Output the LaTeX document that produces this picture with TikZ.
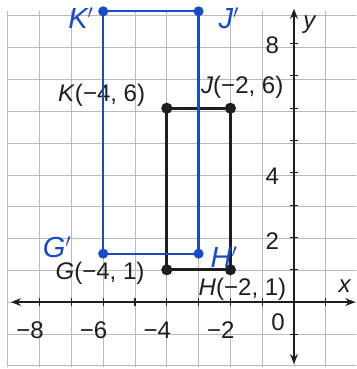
\documentclass[tikz,border=0pt]{standalone}
\usepackage{fontspec}
\setmainfont{Liberation Sans}
\usetikzlibrary{arrows.meta}
\definecolor{pen}{RGB}{25,75,200}
\definecolor{gridc}{RGB}{185,185,185}
\definecolor{ink}{RGB}{30,30,30}
\tikzset{
  gridline/.style={gridc, line width=0.7pt},
  axisline/.style={ink, line width=1.4pt, {Stealth[length=9pt,width=7pt]}-{Stealth[length=9pt,width=7pt]}},
  tickline/.style={ink, line width=1pt},
  orig/.style={ink, line width=2.4pt},
  image/.style={pen, line width=2pt, line join=round},
  blackdot/.style={circle, fill=ink, inner sep=0pt, minimum size=10pt},
  bluedot/.style={circle, fill=pen, inner sep=0pt, minimum size=9pt},
  lbl/.style={text=ink, inner sep=1pt, font=\fontsize{21.5}{25}\selectfont},
  hand/.style={text=pen, inner sep=0pt, font=\fontsize{26}{30}\selectfont\itshape}
}
\begin{document}
\begin{tikzpicture}[x=1cm,y=1.016cm]
\useasboundingbox (-9.245,-2.07) rectangle (1.955,9.35);
\clip (-9.245,-2.07) rectangle (1.955,9.35);
\fill[white] (-9.245,-2.07) rectangle (1.955,9.35);
\draw[gridline] (-9,-2) grid (2,9);
% axes
\coordinate (xl) at (-8.9,0);
\coordinate (xr) at (1.93,0);
\coordinate (yb) at (0,-1.92);
\coordinate (yt) at (0,9.08);
\draw[axisline] (xl) -- (xr);
\draw[axisline] (yb) -- (yt);
\foreach \i in {-8,...,1} \draw[tickline] (\i,-0.13) -- (\i,0.13);
\foreach \j in {-1,...,8} \draw[tickline] (-0.13,\j) -- (0.13,\j);
\node[lbl] (xlab) at (1.6,0.5) {\textit{x}};
\node[lbl] (ylab) at (0.5,8.6) {\textit{y}};
\node[lbl] (t8) at (-8.3,-0.87) {−8};
\node[lbl] (t6) at (-6.3,-0.87) {−6};
\node[lbl] (t4) at (-4.3,-0.87) {−4};
\node[lbl] (t2) at (-2.3,-0.87) {−2};
\node[lbl] (t0) at (-0.5,-0.62) {0};
\node[lbl] (u2) at (-0.68,1.9) {2};
\node[lbl] (u4) at (-0.68,3.9) {4};
\node[lbl] (u8) at (-0.68,7.95) {8};
% original rectangle
\coordinate (G) at (-4,1);
\coordinate (H) at (-2,1);
\coordinate (J) at (-2,6);
\coordinate (K) at (-4,6);
\draw[orig] (G) -- (H) -- (J) -- (K) -- cycle;
\foreach \p in {G,H,J,K} \node[blackdot] at (\p) {};
\node[lbl] (Klab) at (-6.05,6.4) {\textit{K}(−4, 6)};
\node[lbl] (Jlab) at (-1.63,6.66) {\textit{J}(−2, 6)};
\node[lbl] (Glab) at (-6.1,0.9) {\textit{G}(−4, 1)};
\node[lbl] (Hlab) at (-1.62,0.4) {\textit{H}(−2, 1)};
% image rectangle
\coordinate (G2) at (-6,1.5);
\coordinate (H2) at (-3,1.5);
\coordinate (J2) at (-3,9);
\coordinate (K2) at (-6,9);
\draw[image] (G2) -- (H2) -- (J2) -- (K2) -- cycle;
\foreach \p in {G2,H2,J2,K2} \node[bluedot] at (\p) {};
\node[hand, anchor=north] (K2lab) at (-6.7,9.12) {K$'$};
\node[hand, anchor=north] (J2lab) at (-2.05,9.12) {J$'$};
\node[hand] (G2lab) at (-7.45,1.7) {G$'$};
\node[hand] (H2lab) at (-2.2,1.4) {H$'$};
\end{tikzpicture}
\end{document}
